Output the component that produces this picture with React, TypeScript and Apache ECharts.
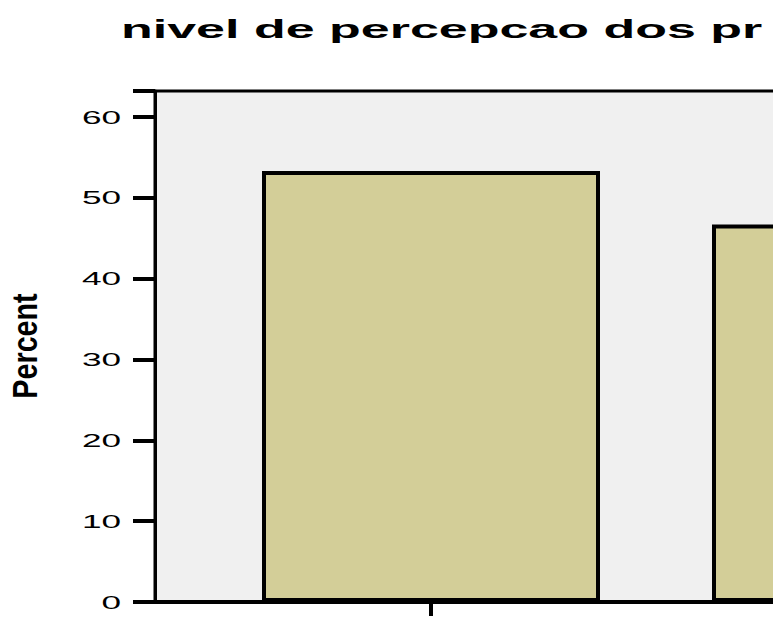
import React, { useEffect, useRef } from "react";
import * as echarts from "echarts";

const titleText = "nivel de percepcao dos pr";
const yAxisName = "Percent";
const categories = ["categoria 1", "categoria 2"];
const percentValues = [53.3, 46.7];
const yTicks = [0, 10, 20, 30, 40, 50, 60];
const yMax = 63.2;

export default function App() {
  const ref = useRef<HTMLDivElement>(null);
  useEffect(() => {
    if (!ref.current) return;
    const chart = echarts.init(ref.current, null, { renderer: "svg" });
    chart.setOption({
      animation: false,
      backgroundColor: "#ffffff",
      grid: { left: 206, top: 91, width: 900, height: 511 },
      xAxis: {
        type: "category",
        data: categories,
        axisLine: { show: true, lineStyle: { color: "#000", width: 4 } },
        axisTick: { show: true, alignWithLabel: true, length: 14, lineStyle: { color: "#000", width: 4 } },
        axisLabel: { show: false },
        splitLine: { show: false },
      },
      yAxis: {
        type: "value",
        min: 0,
        max: yMax,
        interval: 10,
        offset: 51,
        axisLine: { show: true, lineStyle: { color: "#000", width: 3 } },
        axisTick: { show: true, length: 22, lineStyle: { color: "#000", width: 4 } },
        axisLabel: { show: false },
        splitLine: { show: false },
      },
      series: [
        {
          type: "bar",
          data: percentValues,
          barWidth: 338,
          itemStyle: { color: "#d3ce98", borderColor: "#000", borderWidth: 4 },
        },
      ],
    });

    const gridTop = chart.convertToPixel({ yAxisIndex: 0 }, yMax) as number;
    const gridBottom = chart.convertToPixel({ yAxisIndex: 0 }, 0) as number;
    const graphics: any[] = [
      {
        id: "plotbg",
        type: "rect",
        z: -1,
        shape: { x: 155, y: gridTop, width: 1000, height: gridBottom - gridTop },
        style: { fill: "#f0f0f0", stroke: "#000", lineWidth: 3 },
      },
      {
        id: "baseext",
        type: "line",
        z: 1,
        shape: { x1: 154, y1: gridBottom, x2: 210, y2: gridBottom },
        style: { stroke: "#000", lineWidth: 4 },
      },
      {
        id: "title",
        type: "text",
        x: 121,
        y: 29,
        scaleX: 2.0,
        style: {
          text: titleText,
          fontFamily: "Liberation Sans",
          fontWeight: "bold",
          fontSize: 26,
          fill: "#000",
          align: "left",
          verticalAlign: "middle",
        },
      },
      {
        id: "yname",
        type: "text",
        x: 25,
        y: 346,
        rotation: Math.PI / 2,
        scaleX: 1.64,
        scaleY: 2.0,
        style: {
          text: yAxisName,
          fontFamily: "Liberation Sans",
          fontWeight: "bold",
          fontSize: 17.5,
          fill: "#000",
          align: "center",
          verticalAlign: "middle",
        },
      },
    ];
    yTicks.forEach((v, i) => {
      const py = chart.convertToPixel({ yAxisIndex: 0 }, v) as number;
      graphics.push({
        id: "ylab" + i,
        type: "text",
        x: 121,
        y: py,
        scaleX: 1.85,
        style: {
          text: String(v),
          fontFamily: "Liberation Sans",
          fontSize: 19,
          fill: "#000",
          align: "right",
          verticalAlign: "middle",
        },
      });
    });
    chart.setOption({ graphic: graphics });
    return () => chart.dispose();
  }, []);
  return (
    <div
      style={{
        position: "fixed",
        left: 0,
        top: 0,
        width: 773,
        height: 625,
        overflow: "hidden",
        background: "#fff",
      }}
    >
      <div ref={ref} style={{ width: 1200, height: 625 }} />
    </div>
  );
}
